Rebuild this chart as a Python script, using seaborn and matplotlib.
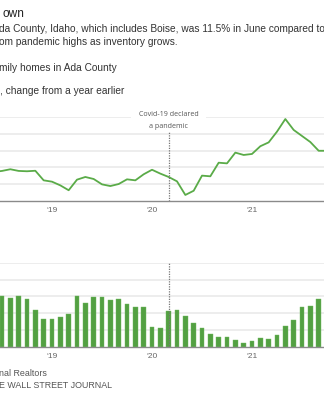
import numpy as np
import pandas as pd
import matplotlib
matplotlib.use("Agg")
import matplotlib.pyplot as plt
import seaborn as sns

# ---- data (month index: Jan 2018 = 0) ----
line_start = 5   # Jun 2018
price_growth = [17.3, 17.9, 18.9, 17.9, 17.7, 18.0, 12.3,
                11.5, 9.3, 6.4, 12.7, 14.3, 13.1, 9.9, 8.9, 10.1, 12.9, 12.3, 15.9,
                18.6, 16.3, 14.3, 11.7, 3.6, 6.1, 15.1, 14.7, 22.8, 22.4, 28.8, 27.4,
                28.0, 32.6, 34.9, 41.3, 48.8, 42.3, 38.7, 35.1, 29.9, 29.9]
bar_start = 6    # Jul 2018
supply = [3.0, 2.92, 3.04, 2.84, 2.16, 1.63,
          1.63, 1.78, 1.94, 3.0, 2.59, 2.94, 2.97, 2.80, 2.84, 2.53, 2.37, 2.35,
          1.18, 1.12, 2.12, 2.20, 1.84, 1.43, 1.10, 0.76, 0.59, 0.55, 0.41, 0.25,
          0.31, 0.53, 0.47, 0.69, 1.25, 1.57, 2.35, 2.45, 2.82]
year_ticks = [12, 24, 36]
year_labels = ["\u201819", "\u201820", "\u201821"]
covid_month = 26  # Mar 2020

months_line = np.arange(len(price_growth)) + line_start
months_bar = np.arange(len(supply)) + bar_start
df_line = pd.DataFrame({"month": months_line, "value": price_growth})
df_bar = pd.DataFrame({"month": months_bar, "value": supply})

sns.set_style("white")
plt.rcParams["font.family"] = ["Liberation Sans", "DejaVu Sans"]

W, H = 324, 399
fig = plt.figure(figsize=(W / 100, H / 100), dpi=100)

def fy(py):
    return 1 - py / H

def fx(px):
    return px / W

XLIM = (5.76, 44.64)
LINE_C = "#5aab48"
BAR_C = "#53a042"
GRID_C = "#e8e8e8"

def style_axis(ax, ymax, gridvals):
    ax.set_xlim(*XLIM)
    ax.set_ylim(0, ymax)
    ax.set_yticks(gridvals)
    ax.set_yticklabels([])
    ax.tick_params(axis="y", length=0)
    ax.yaxis.grid(True, color=GRID_C, lw=1.1)
    ax.set_axisbelow(True)
    ax.set_xticks(year_ticks)
    ax.set_xticklabels(year_labels)
    ax.tick_params(axis="x", length=3, width=0.8, color="#888888", labelsize=6,
                   labelcolor="#666666", pad=1.5)
    for s in ["top", "left", "right"]:
        ax.spines[s].set_visible(False)
    ax.spines["bottom"].set_color("#8a8a8a")
    ax.spines["bottom"].set_linewidth(1.0)
    ax.set_xlabel("")
    ax.set_ylabel("")

# top chart
ax1 = fig.add_axes([0, fy(201), 1, (201 - 117) / H])
sns.lineplot(data=df_line, x="month", y="value", ax=ax1, color=LINE_C, lw=1.3)
style_axis(ax1, 50, [10, 20, 30, 40, 50])
ax1.axvline(covid_month, ymin=0, ymax=41.3 / 50, ls=(0, (1, 1)), color="#777777", lw=0.9)

covid_x = fx(168.7)
fig.text(covid_x, fy(115), "Covid-19 declared", ha="center", va="center",
         fontsize=5.1, color="#555555", family=["Open Sans", "DejaVu Sans"],
         bbox=dict(facecolor="white", edgecolor="none", pad=5.5), zorder=5)
fig.text(covid_x, fy(126), "a pandemic", ha="center", va="center",
         fontsize=5.1, color="#555555", family=["Open Sans", "DejaVu Sans"], zorder=6)

# bottom chart
ax2 = fig.add_axes([0, fy(346.7), 1, (346.7 - 262.7) / H])
sns.barplot(data=df_bar, x="month", y="value", ax=ax2, native_scale=True, width=0.55,
            color=BAR_C, saturation=1, edgecolor="#6fbb5f", linewidth=0.3)
style_axis(ax2, 5, [1, 2, 3, 4, 5])
ax2.axvline(covid_month, ymin=0, ymax=1, ls=(0, (1, 1)), color="#777777", lw=0.9, zorder=3)

# texts
TXT = 7.25
fig.text(fx(2.5), fy(14), "own", fontsize=8.6, color="#222222", va="center")
fig.text(fx(-1), fy(29.3), "da County, Idaho, which includes Boise, was 11.5% in June compared to",
         fontsize=TXT, color="#333333", va="center")
fig.text(fx(-1), fy(42.3), "om pandemic highs as inventory grows.", fontsize=TXT, color="#333333", va="center")
fig.text(fx(-1), fy(67.7), "mily homes in Ada County", fontsize=TXT, color="#333333", va="center")
fig.text(fx(0.5), fy(90.7), ", change from a year earlier", fontsize=TXT, color="#333333", va="center")
fig.text(fx(-1), fy(373.5), "nal Realtors", fontsize=6.4, color="#555555", va="center")
fig.text(fx(-1), fy(385.5), "E WALL STREET JOURNAL", fontsize=6.4, color="#555555", va="center")

fig.savefig("out.png", dpi=100)
